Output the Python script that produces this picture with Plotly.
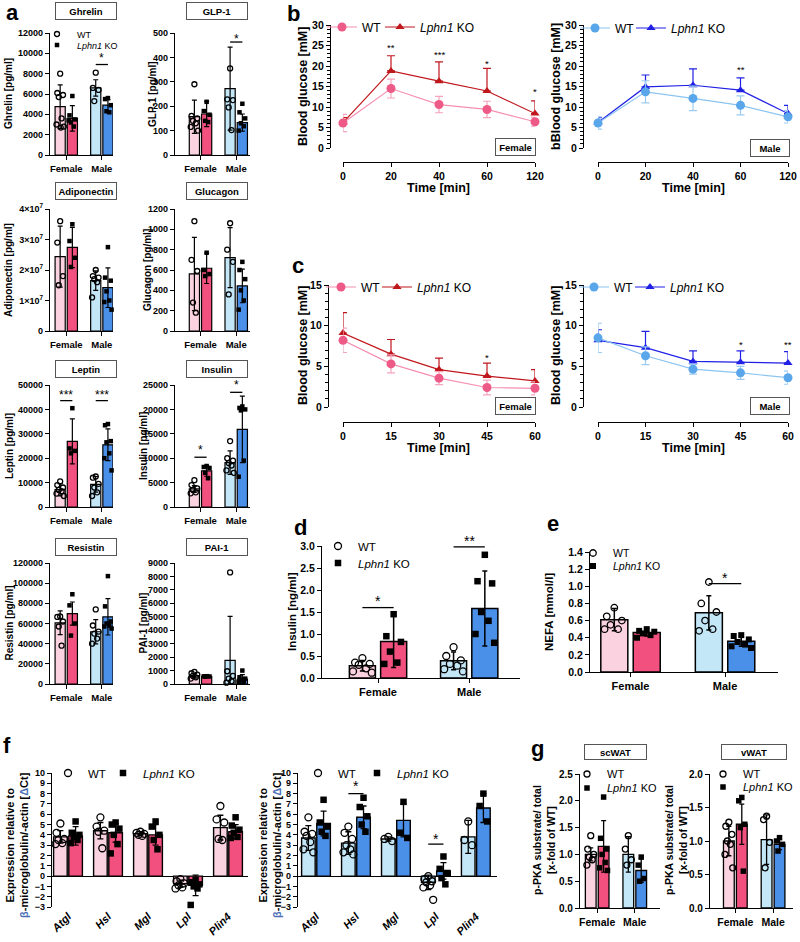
import plotly.graph_objects as go

W, H = 800, 942
FONT = "Liberation Sans, Arial, Helvetica, sans-serif"

# ---------------------------------------------------------------- data
sexes = ["Female", "Male"]
genotype_labels = ["WT", "<i>Lphn1</i> KO"]

# panel a: order = Female WT, Female KO, Male WT, Male KO
ghrelin_mean = [4750, 3600, 6600, 4900]
ghrelin_sd = [2150, 1250, 800, 550]
ghrelin_pts = [[8000, 6100, 5900, 5700, 3600, 3000, 2800, 2700],
               [5800, 3900, 3500, 3200, 2800, 3400],
               [8100, 6600, 6400, 5300],
               [5600, 5500, 4900, 4300, 4200]]
ghrelin_sig = [(1, 8900, 9900, "*")]

glp1_mean = [157, 168, 272, 133]
glp1_sd = [68, 52, 170, 35]
glp1_pts = [[290, 160, 150, 140, 130, 115, 100],
            [218, 180, 165, 140, 135],
            [355, 228, 225, 195, 102],
            [210, 175, 150, 130, 118, 100]]
glp1_sig = [(1, 463, 492, "*")]

adipo_mean = [2.44e7, 2.74e7, 1.65e7, 1.42e7]
adipo_sd = [1.0e7, 0.66e7, 0.32e7, 0.65e7]
adipo_pts = [[3.6e7, 2.9e7, 1.8e7, 1.5e7],
             [3.5e7, 2.95e7, 2.4e7, 2.1e7],
             [2.0e7, 1.8e7, 1.75e7, 1.7e7, 1.6e7, 1.1e7],
             [2.75e7, 1.75e7, 1.65e7, 1.3e7, 1.0e7, 0.95e7, 0.7e7]]
adipo_ticks = [0, 1e7, 2e7, 3e7, 4e7]
adipo_ticktext = ["0", "1×10<sup>7</sup>", "2×10<sup>7</sup>", "3×10<sup>7</sup>", "4×10<sup>7</sup>"]

glucagon_mean = [561, 617, 721, 443]
glucagon_sd = [360, 150, 295, 165]
glucagon_pts = [[1080, 700, 590, 280, 180],
                [770, 600, 560, 540],
                [1060, 800, 680, 360],
                [680, 600, 510, 400, 300, 210]]

leptin_mean = [7100, 26900, 9300, 25500]
leptin_sd = [2500, 9200, 3200, 6500]
leptin_pts = [[10500, 9000, 8000, 7000, 6500, 5500, 4500],
              [40500, 24000, 23000, 22000],
              [12500, 12000, 9500, 8000, 6000, 4500],
              [34000, 33500, 27000, 26500, 22000, 20000, 15000]]
leptin_sig = [(0, 43600, 47300, "***"), (1, 43600, 47300, "***")]

insulin_mean = [3700, 7400, 9100, 15900]
insulin_sd = [700, 1100, 2400, 6800]
insulin_pts = [[5500, 4500, 3800, 3500, 3000, 2800],
               [8400, 8200, 8000, 7000, 5900],
               [13500, 10000, 9500, 9000, 8500, 7500, 7000],
               [20600, 20300, 20000, 19800, 9500, 6200]]
insulin_sig = [(0, 10200, 12400, "*"), (1, 23500, 25700, "*")]

resistin_mean = [60700, 69800, 51800, 66600]
resistin_sd = [11800, 11500, 12100, 18000]
resistin_pts = [[67000, 66500, 62000, 57000, 38000],
                [89000, 78000, 60000, 48000],
                [74000, 58000, 52000, 50000, 45000, 40000],
                [107000, 77000, 62000, 60000, 58000, 57000, 55000]]

pai1_mean = [620, 570, 1760, 370]
pai1_sd = [180, 20, 3270, 320]
pai1_pts = [[900, 800, 700, 600, 500, 400],
            [580, 570, 560, 550],
            [8300, 950, 600, 400, 200, 100],
            [1000, 500, 400, 300, 200, 150]]

# panel b: glucose tolerance (time points are equally spaced categories)
ogtt_time = ["0", "20", "40", "60", "120"]
ogtt_f_wt = [6.1, 14.5, 10.6, 9.4, 6.4]
ogtt_f_wt_sd = [2.1, 2.3, 2.0, 2.0, 1.1]
ogtt_f_ko = [6.2, 18.8, 16.3, 13.9, 8.4]
ogtt_f_ko_sd = [1.2, 3.7, 4.7, 5.5, 3.1]
ogtt_f_stars = [("20", 25.3, "**"), ("40", 23.5, "***"), ("60", 21.4, "*"), ("120", 14.5, "*")]
ogtt_m_wt = [6.1, 13.7, 12.1, 10.4, 7.6]
ogtt_m_wt_sd = [1.5, 2.7, 3.0, 2.3, 1.5]
ogtt_m_ko = [6.2, 14.9, 15.3, 14.1, 8.4]
ogtt_m_ko_sd = [1.2, 2.9, 4.0, 3.0, 2.0]
ogtt_m_stars = [("60", 20.0, "**")]

# panel c: insulin tolerance
itt_time = [0, 15, 30, 45, 60]
itt_f_wt = [8.2, 5.3, 3.55, 2.4, 2.3]
itt_f_wt_sd = [1.5, 1.1, 0.8, 0.9, 0.8]
itt_f_ko = [9.1, 6.5, 4.6, 3.8, 3.2]
itt_f_ko_sd = [2.5, 1.8, 1.4, 1.6, 1.4]
itt_f_stars = [(45, 6.5, "*")]
itt_m_wt = [8.5, 6.3, 4.65, 4.2, 3.6]
itt_m_wt_sd = [1.8, 1.1, 0.6, 0.8, 0.8]
itt_m_ko = [8.2, 7.3, 5.6, 5.5, 5.4]
itt_m_ko_sd = [1.3, 2.0, 1.3, 1.4, 1.4]
itt_m_stars = [(45, 8.0, "*"), (60, 8.0, "**")]

# panel d: insulin
ins_mean = [0.28, 0.83, 0.39, 1.58]
ins_sd = [0.12, 0.59, 0.2, 0.85]
ins_pts = [[0.45, 0.35, 0.32, 0.3, 0.22, 0.15, 0.12],
           [1.45, 0.95, 0.82, 0.6, 0.35, 0.32],
           [0.7, 0.5, 0.4, 0.32, 0.28, 0.2, 0.15],
           [2.8, 2.2, 2.15, 1.5, 1.3, 1.0, 0.8]]
ins_sig = [(0, 1.6, 1.85, "*"), (1, 2.98, 3.2, "**")]

# panel e: NEFA
nefa_mean = [0.61, 0.46, 0.69, 0.36]
nefa_sd = [0.13, 0.04, 0.2, 0.06]
nefa_pts = [[0.75, 0.65, 0.6, 0.55, 0.5, 0.5],
            [0.5, 0.48, 0.47, 0.45, 0.43, 0.4],
            [1.05, 0.8, 0.7, 0.6, 0.5, 0.48],
            [0.43, 0.42, 0.38, 0.35, 0.32, 0.3, 0.28]]
nefa_sig = [(1, 1.03, 1.15, "*")]

# panel f: lipolysis genes
genes = ["Atgl", "Hsl", "Mgl", "Lpl", "Plin4"]
ff_wt_mean = [3.8, 4.4, 4.1, -0.75, 4.7]
ff_wt_sd = [0.6, 0.8, 0.2, 0.35, 1.2]
ff_wt_pts = [[5.1, 4.2, 3.6, 3.5, 3.2, 3.1], [5.7, 4.8, 4.4, 4.3, 2.7],
             [4.3, 4.2, 4.1, 4.0, 3.9], [-0.3, -0.5, -0.7, -0.9, -1.1, -1.2],
             [6.8, 5.5, 5.2, 3.6, 3.5]]
ff_ko_mean = [3.9, 4.2, 4.0, -0.9, 4.3]
ff_ko_sd = [0.9, 0.9, 1.0, 1.0, 0.7]
ff_ko_pts = [[5.3, 4.2, 4.0, 3.8, 3.5, 3.2], [5.2, 5.0, 4.6, 4.0, 3.1, 2.2],
             [5.3, 4.8, 4.0, 3.5, 2.6], [-0.4, -0.6, -0.8, -1.0, -1.2, -2.8],
             [5.7, 4.9, 4.5, 4.2, 3.8, 3.7]]
fm_wt_mean = [3.7, 3.2, 3.6, -0.6, 3.8]
fm_wt_sd = [1.2, 1.1, 0.2, 0.7, 1.6]
fm_wt_pts = [[5.7, 4.3, 4.1, 3.9, 3.3, 2.6, 2.3], [4.8, 4.2, 3.6, 3.0, 2.6, 2.3, 2.1],
             [3.8, 3.6, 3.4], [0.0, -0.3, -0.5, -0.6, -0.9, -1.1, -2.3], [5.3, 3.5, 3.0]]
fm_ko_mean = [5.1, 5.7, 5.4, 0.5, 6.6]
fm_ko_sd = [1.2, 1.1, 1.6, 0.8, 1.4]
fm_ko_pts = [[7.4, 5.2, 4.8, 4.3, 3.9], [7.6, 6.7, 5.8, 5.0, 4.3], [7.2, 4.2, 3.7],
             [1.9, 0.7, 0.3, -0.2, -0.8], [8.0, 6.8, 5.3]]
fm_sig = [(1, 8.0, 9.1, "*"), (3, 3.1, 4.0, "*")]

# panel g: p-PKA substrate
sc_mean = [1.0, 1.15, 1.0, 0.7]
sc_sd = [0.12, 0.48, 0.33, 0.22]
sc_pts = [[1.35, 1.1, 1.0, 0.95, 0.9, 0.8], [2.07, 1.3, 1.1, 1.0, 0.85, 0.75, 0.7],
          [1.35, 1.1, 0.9, 0.8], [0.95, 0.8, 0.55, 0.5]]
v_mean = [1.0, 1.25, 1.02, 0.95]
v_sd = [0.22, 0.3, 0.37, 0.08]
v_pts = [[1.28, 1.22, 1.1, 1.0, 0.95, 0.8, 0.6], [1.65, 1.6, 1.25, 1.2, 0.55],
         [1.37, 1.32, 0.98, 0.6], [1.05, 1.0, 0.95, 0.85]]

# ---------------------------------------------------------------- style
F_WT, F_KO, M_WT, M_KO = "#fbd3e0", "#f2517f", "#c4e7f8", "#4b90e8"
BAR_COLORS = [F_WT, F_KO, M_WT, M_KO]
JIT = [0.0, -0.28, 0.28, -0.14, 0.14, -0.36, 0.36, 0.06]

fig = go.Figure()
lay = dict(width=W, height=H, margin=dict(l=0, r=0, t=0, b=0, autoexpand=False),
           paper_bgcolor="white", plot_bgcolor="rgba(0,0,0,0)",
           font=dict(family=FONT, color="black", weight="bold", size=10),
           showlegend=True, hovermode=False, barmode="overlay")
ann, shp = [], []
leg_count = [0]

AXL = dict(showline=True, linecolor="black", linewidth=1.3, ticks="outside", ticklen=4,
           tickwidth=1.2, tickcolor="black", showgrid=False, zeroline=False, fixedrange=True,
           automargin=False)


def fx(p):
    return p / W


def fy(p):
    return 1 - p / H


def names(n):
    s = "" if n == 1 else str(n)
    return "x" + s, "y" + s, "xaxis" + s, "yaxis" + s


def new_legend(cx, cy, size):
    leg_count[0] += 1
    key = "legend" if leg_count[0] == 1 else "legend%d" % leg_count[0]
    lay[key] = dict(x=fx(cx - 20), y=fy(cy), xanchor="left", yanchor="middle",
                    bgcolor="rgba(0,0,0,0)", borderwidth=0,
                    font=dict(family=FONT, size=size, weight="normal", color="black"),
                    itemclick=False, itemdoubleclick=False)
    return key


def text(x, y, s, size, weight="bold", angle=0, **kw):
    ann.append(dict(x=fx(x), y=fy(y), xref="paper", yref="paper", text=s, showarrow=False,
                    xanchor="center", yanchor="middle", textangle=angle,
                    font=dict(family=FONT, size=size, weight=weight, color="black"), **kw))


def box(cx, cy, w, h, s, size):
    ann.append(dict(x=fx(cx), y=fy(cy), xref="paper", yref="paper", text=s, showarrow=False,
                    xanchor="center", yanchor="middle",
                    width=w - 6, height=h - 6, borderpad=2, bordercolor="#555", borderwidth=1,
                    bgcolor="white", font=dict(family=FONT, size=size, weight="bold", color="black")))


def star(xa, ya, x, yl, ystar, txt, size, px_per_unit):
    # star placed relative to its significance line, offset by the data gap converted to pixels
    ann.append(dict(xref=xa, yref=ya, x=x, y=yl, text=txt, showarrow=False,
                    xanchor="center", yanchor="middle",
                    font=dict(family=FONT, size=size, weight="normal", color="black"),
                    yshift=(ystar - yl) * px_per_unit - 0.3 * size))


def pt_marker(g, size):
    if g == 0:
        return dict(symbol="circle-open", size=size, color="black", line=dict(width=1.3, color="black"))
    return dict(symbol="square", size=size - 0.5, color="black", line=dict(width=0))


def sex_bar_panel(n, x0, x1, y0, y1, xr, ytop, dtick, means, sds, pts, sig=(),
                  tickfmt="d", fsize=9, msize=5, lw=1.2, star_size=12, tickvals=None,
                  ticktext=None, legpos=None, legsize=9):
    xa, ya, xk, yk = names(n)
    pos = [s * 3.5 + (g - 0.5) * 1.2 for s in range(2) for g in range(2)]
    fig.add_trace(go.Bar(x=pos, y=means, width=1.0, xaxis=xa, yaxis=ya, showlegend=False,
                         marker=dict(color=BAR_COLORS, line=dict(color="black", width=lw)),
                         error_y=dict(type="data", array=sds, color="black", thickness=lw, width=2.5)))
    for g in range(2):
        xs, ys = [], []
        for s in range(2):
            i = 2 * s + g
            for k, v in enumerate(pts[i]):
                xs.append(pos[i] + JIT[k % len(JIT)])
                ys.append(v)
        if legpos:
            kw = dict(showlegend=True, legend=new_legend(legpos[g][0], legpos[g][1], legsize))
        else:
            kw = dict(showlegend=False)
        fig.add_trace(go.Scatter(x=xs, y=ys, mode="markers", xaxis=xa, yaxis=ya, cliponaxis=False,
                                 name=genotype_labels[g], marker=pt_marker(g, msize), **kw))
    ppu = (y1 - y0) / ytop
    for s, yl, ystar, txt in sig:
        shp.append(dict(type="line", xref=xa, yref=ya, x0=pos[2 * s], x1=pos[2 * s + 1],
                        y0=yl, y1=yl, line=dict(color="black", width=1.3)))
        star(xa, ya, s * 3.5, yl, ystar, txt, star_size, ppu)
    lay[xk] = dict(AXL, domain=[fx(x0), fx(x1)], range=xr, tickvals=[0, 3.5], ticktext=sexes,
                   anchor=ya, tickfont=dict(size=fsize + 0.5))
    yd = dict(AXL, domain=[fy(y1), fy(y0)], range=[0, ytop], dtick=dtick, tickformat=tickfmt,
              anchor=xa, tickfont=dict(size=fsize))
    if tickvals is not None:
        yd.update(tickvals=tickvals, ticktext=ticktext)
    lay[yk] = yd


def line_panel(n, x0, x1, y0, y1, yax_x, xax_y, times, xtype, ytop, wt, wt_sd, ko, ko_sd,
               stars, cols, legpos, legsize=12):
    xa, ya, xk, yk = names(n)
    c_wt_m, c_wt_l, c_wt_e, c_ko = cols
    fig.add_trace(go.Scatter(x=times, y=ko, mode="lines+markers", xaxis=xa, yaxis=ya, cliponaxis=False,
                             name=genotype_labels[1], legend=new_legend(legpos[1][0], legpos[1][1], legsize),
                             line=dict(color=c_ko, width=1.2),
                             marker=dict(symbol="triangle-up", size=8, color=c_ko),
                             error_y=dict(type="data", array=ko_sd, arrayminus=[0] * len(ko),
                                          symmetric=False, color=c_ko, thickness=1.2, width=4)))
    fig.add_trace(go.Scatter(x=times, y=wt, mode="lines+markers", xaxis=xa, yaxis=ya, cliponaxis=False,
                             name=genotype_labels[0], legend=new_legend(legpos[0][0], legpos[0][1], legsize),
                             line=dict(color=c_wt_l, width=1.2),
                             marker=dict(symbol="circle", size=9, color=c_wt_m),
                             error_y=dict(type="data", array=wt_sd, color=c_wt_e, thickness=1.2, width=4)))
    for t, yv, s in stars:
        # category axes take the serial number of the category for annotations
        xpos = times.index(t) if xtype == "category" else t
        ann.append(dict(xref=xa, yref=ya, x=xpos, y=yv, text=s, showarrow=False,
                        xanchor="center", yanchor="middle",
                        font=dict(family=FONT, size=9.5, weight="normal", color="black"), yshift=-3))
    xd = dict(AXL, domain=[fx(x0), fx(x1)], anchor="free", position=fy(xax_y),
              tickfont=dict(size=10.5))
    if xtype == "category":
        xd.update(type="category", range=[0, len(times) - 1])
    else:
        xd.update(type="linear", range=[times[0], times[-1]], dtick=15)
    lay[xk] = xd
    lay[yk] = dict(AXL, domain=[fy(y1), fy(y0)], range=[0, ytop], dtick=5, anchor="free",
                   position=fx(yax_x), tickfont=dict(size=10.5),
                   minor=dict(dtick=1, ticklen=2.5, tickwidth=1, tickcolor="black", ticks="outside"))


def gene_panel(n, x0, x1, y0, y1, xr, wt_m, wt_sd, wt_p, ko_m, ko_sd, ko_p, cwt, cko, sig, legpos):
    xa, ya, xk, yk = names(n)
    idx = list(range(len(genes)))
    pos = [[i - 0.19 for i in idx], [i + 0.19 for i in idx]]
    for g, (m, sd, col) in enumerate([(wt_m, wt_sd, cwt), (ko_m, ko_sd, cko)]):
        fig.add_trace(go.Bar(x=pos[g], y=m, width=0.34, xaxis=xa, yaxis=ya, showlegend=False,
                             marker=dict(color=col, line=dict(color="black", width=1.4)),
                             error_y=dict(type="data", array=sd, color="black", thickness=1.3, width=3)))
    for g, p in enumerate([wt_p, ko_p]):
        xs, ys = [], []
        for i in idx:
            for k, v in enumerate(p[i]):
                xs.append(pos[g][i] + JIT[k % len(JIT)] * 0.34)
                ys.append(v)
        fig.add_trace(go.Scatter(x=xs, y=ys, mode="markers", xaxis=xa, yaxis=ya, cliponaxis=False,
                                 name=genotype_labels[g], marker=pt_marker(g, 7),
                                 legend=new_legend(legpos[g][0], legpos[g][1], 11.5)))
    ppu = (y1 - y0) / 13.0
    for i, yl, ystar, txt in sig:
        shp.append(dict(type="line", xref=xa, yref=ya, x0=pos[0][i], x1=pos[1][i],
                        y0=yl, y1=yl, line=dict(color="black", width=1.3)))
        star(xa, ya, i, yl, ystar, txt, 14, ppu)
    lay[xk] = dict(showline=False, ticks="", showgrid=False, zeroline=False, fixedrange=True,
                   automargin=False,
                   domain=[fx(x0), fx(x1)], range=xr, tickvals=idx,
                   ticktext=["<i>%s</i>" % g for g in genes], tickangle=-45, anchor=ya,
                   tickfont=dict(size=11))
    lay[yk] = dict(AXL, domain=[fy(y1), fy(y0)], range=[-3, 10], dtick=1, anchor=xa,
                   zeroline=True, zerolinecolor="black", zerolinewidth=1.3, tickfont=dict(size=9))


# ---------------------------------------------------------------- panel a
L_X0, L_X1, L_XR = 50, 113, [-1.6, 4.6]
R_X0, R_X1, R_XR = 175, 250, [-2.5, 4.85]
rows = [(33, 155), (209, 331), (385, 507), (563, 684)]
boxes_y = [11, 191, 369, 547]

sex_bar_panel(1, L_X0, L_X1, *rows[0], L_XR, 12000, 2000, ghrelin_mean, ghrelin_sd, ghrelin_pts,
              ghrelin_sig, legpos=[(57, 34), (57, 45)], legsize=9)
sex_bar_panel(2, R_X0, R_X1, *rows[0], R_XR, 500, 100, glp1_mean, glp1_sd, glp1_pts, glp1_sig)
sex_bar_panel(3, L_X0, L_X1, *rows[1], L_XR, 4e7, 1e7, adipo_mean, adipo_sd, adipo_pts,
              tickvals=adipo_ticks, ticktext=adipo_ticktext)
sex_bar_panel(4, R_X0, R_X1, *rows[1], R_XR, 1200, 200, glucagon_mean, glucagon_sd, glucagon_pts)
sex_bar_panel(5, L_X0, L_X1, *rows[2], L_XR, 50000, 10000, leptin_mean, leptin_sd, leptin_pts,
              leptin_sig)
sex_bar_panel(6, R_X0, R_X1, *rows[2], R_XR, 25000, 5000, insulin_mean, insulin_sd, insulin_pts,
              insulin_sig)
sex_bar_panel(7, L_X0, L_X1, *rows[3], L_XR, 120000, 20000, resistin_mean, resistin_sd, resistin_pts)
sex_bar_panel(8, R_X0, R_X1, *rows[3], R_XR, 9000, 1000, pai1_mean, pai1_sd, pai1_pts)

for (lbl, rbl), by in zip([("Ghrelin", "GLP-1"), ("Adiponectin", "Glucagon"),
                           ("Leptin", "Insulin"), ("Resistin", "PAI-1")], boxes_y):
    box(86, by, 62, 18, lbl, 9.5)
    box(217, by, 62, 18, rbl, 9.5)

for (lt, rt, rx), (y0, y1) in zip([("Ghrelin [pg/ml]", "GLP-1 [pg/ml]", 153),
                                   ("Adiponectin [pg/ml]", "Glucagon [pg/ml]", 148),
                                   ("Leptin [pg/ml]", "Insulin [pg/ml]", 143),
                                   ("Resistin [pg/ml]", "PAI-1 [pg/ml]", 143)], rows):
    text(9, (y0 + y1) / 2, lt, 10, angle=-90)
    text(rx, (y0 + y1) / 2, rt, 10, angle=-90)

# ---------------------------------------------------------------- panel b
PINK = ("#ee5a88", "#f58fb0", "#f5a5bd", "#c0171d")
BLUE = ("#5aa6ea", "#8cc4f0", "#9ccbf2", "#2020e6")
line_panel(9, 343, 535, 25, 148, 330, 162, ogtt_time, "category", 30, ogtt_f_wt, ogtt_f_wt_sd,
           ogtt_f_ko, ogtt_f_ko_sd, ogtt_f_stars, PINK, [(342, 27), (400, 27)])
line_panel(10, 598, 788, 25, 148, 583, 162, ogtt_time, "category", 30, ogtt_m_wt, ogtt_m_wt_sd,
           ogtt_m_ko, ogtt_m_ko_sd, ogtt_m_stars, BLUE, [(595, 28), (651, 28)])
text(303, 87, "Blood glucose [mM]", 12.5, angle=-90)
text(556, 87, "bBlood glucose [mM]", 12.5, angle=-90)
text(439, 188, "Time [min]", 12.5)
text(693, 188, "Time [min]", 12.5)
box(515, 147, 41, 18, "Female", 9.5)
box(770, 148, 40, 18, "Male", 9.5)

# ---------------------------------------------------------------- panel c
line_panel(11, 343, 535, 285, 407, 328, 422, itt_time, "linear", 15, itt_f_wt, itt_f_wt_sd,
           itt_f_ko, itt_f_ko_sd, itt_f_stars, PINK, [(341, 287), (397, 287)])
line_panel(12, 598, 788, 285, 407, 583, 422, itt_time, "linear", 15, itt_m_wt, itt_m_wt_sd,
           itt_m_ko, itt_m_ko_sd, itt_m_stars, BLUE, [(594, 287), (650, 287)])
text(303, 346, "Blood glucose [mM]", 12.5, angle=-90)
text(556, 346, "Blood glucose [mM]", 12.5, angle=-90)
text(439, 448, "Time [min]", 12.5)
text(693, 448, "Time [min]", 12.5)
box(515, 406, 41, 18, "Female", 9.5)
box(770, 406, 40, 18, "Male", 9.5)

# ---------------------------------------------------------------- panel d / e
sex_bar_panel(13, 322, 520, 546, 678, [-2.15, 5.45], 3.0, 0.5, ins_mean, ins_sd, ins_pts, ins_sig,
              tickfmt=".1f", fsize=10.5, msize=7, lw=1.5, star_size=14,
              legpos=[(338, 546), (338, 563)], legsize=11.5)
text(292, 612, "Insulin [ng/ml]", 11.5, angle=-90)
sex_bar_panel(14, 590, 778, 552, 672, [-1.5, 5.46], 1.4, 0.2, nefa_mean, nefa_sd, nefa_pts, nefa_sig,
              tickfmt=".1f", fsize=10.5, msize=6.5, lw=1.5, star_size=14,
              legpos=[(593, 553), (593, 566)], legsize=10.5)
text(549, 612, "NEFA [mmol/l]", 11.5, angle=-90)

# ---------------------------------------------------------------- panel f
gene_panel(15, 52, 248, 773, 907, [-0.4, 4.5], ff_wt_mean, ff_wt_sd, ff_wt_pts, ff_ko_mean,
           ff_ko_sd, ff_ko_pts, F_WT, F_KO, [], [(68, 773), (123, 773)])
gene_panel(16, 298, 497, 773, 907, [-0.45, 4.53], fm_wt_mean, fm_wt_sd, fm_wt_pts, fm_ko_mean,
           fm_ko_sd, fm_ko_pts, M_WT, M_KO, fm_sig, [(318, 773), (377, 773)])
ytitle_f = ("Expression relative to<br><span style='color:#4a6fb5'>β</span>-microglobulin/-actin "
            "[<span style='color:#4a6fb5'>Δ</span>Ct]")
text(17, 845, ytitle_f, 11, angle=-90)
text(270, 845, ytitle_f, 11, angle=-90)

# ---------------------------------------------------------------- panel g
sex_bar_panel(17, 580, 660, 774, 908, [-1.6, 5.85], 2.5, 0.5, sc_mean, sc_sd, sc_pts,
              tickfmt=".1f", fsize=10, msize=6, lw=1.3, legpos=[(587, 774), (587, 788)], legsize=11)
sex_bar_panel(18, 710, 793, 774, 908, [-2.35, 5.35], 2.0, 0.5, v_mean, v_sd, v_pts,
              tickfmt=".1f", fsize=10, msize=6, lw=1.3, legpos=[(723, 774), (723, 787)], legsize=11)
box(615, 752, 63, 16, "scWAT", 9.5)
box(754, 752, 66, 16, "vWAT", 9.5)
ytitle_g = "p-PKA substrate/ total<br>[x-fold of WT]"
text(544, 840, ytitle_g, 10.5, angle=-90)
text(676, 840, ytitle_g, 10.5, angle=-90)

# ---------------------------------------------------------------- panel letters
for lt, x, y in [("a", 12, 13), ("b", 293, 14), ("c", 298, 266), ("d", 300, 527),
                 ("e", 553, 523), ("f", 7, 745), ("g", 537, 748)]:
    text(x, y, lt, 22)

lay["annotations"] = ann
lay["shapes"] = shp
fig.update_layout(**lay)
fig.write_html("out.html", config={"displayModeBar": False},
               post_script="document.body.style.margin='0';document.body.style.padding='0';")
